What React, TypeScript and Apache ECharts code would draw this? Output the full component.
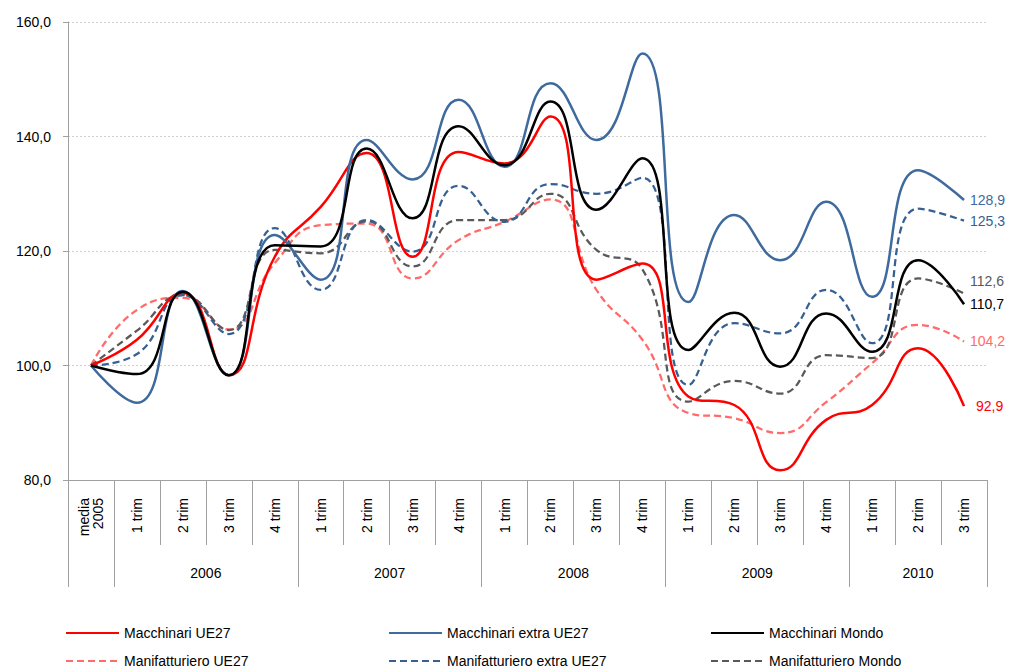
import React, { useEffect, useRef } from "react";
import * as echarts from "echarts";

// ---- data ----
const quarterLabels = [
  "media\n2005",
  "1 trim", "2 trim", "3 trim", "4 trim",
  "1 trim", "2 trim", "3 trim", "4 trim",
  "1 trim", "2 trim", "3 trim", "4 trim",
  "1 trim", "2 trim", "3 trim", "4 trim",
  "1 trim", "2 trim", "3 trim",
];
const yearGroups = ["", "2006", "2007", "2008", "2009", "2010"];
const yearGroupSizes = [1, 4, 4, 4, 4, 3];

const macchinariUE27 = [100, 104.5, 112.7, 98.3, 119.0, 127.7, 137.1, 119.0, 137.3, 135.3, 143.5, 115.0, 117.8, 94.6, 93.1, 81.7, 90.5, 93.1, 103.0, 92.9];
const macchinariExtraUE27 = [100, 93.5, 113.0, 98.3, 122.8, 115.0, 139.4, 132.5, 146.4, 134.7, 149.3, 139.4, 154.5, 111.1, 126.3, 118.4, 128.6, 112.0, 134.1, 128.9];
const macchinariMondo = [100, 98.5, 112.9, 98.3, 121.0, 120.8, 137.9, 125.7, 141.8, 135.0, 146.1, 127.2, 136.2, 102.7, 109.2, 99.8, 109.1, 102.4, 118.4, 110.7];
const manifatturieroUE27 = [100, 109.7, 111.8, 106.3, 117.9, 124.5, 124.8, 115.2, 121.9, 125.1, 129.0, 113.2, 104.5, 91.7, 90.8, 88.2, 93.6, 100.4, 107.1, 104.2];
const manifatturieroExtraUE27 = [100, 102.0, 112.3, 105.5, 124.0, 113.2, 125.4, 119.9, 131.4, 125.1, 131.7, 130.0, 132.8, 96.6, 107.4, 105.6, 113.2, 103.9, 127.4, 125.3];
const manifatturieroMondo = [100, 106.1, 112.3, 106.2, 120.2, 119.6, 125.2, 117.3, 125.4, 125.4, 130.0, 120.2, 116.8, 93.7, 97.3, 95.1, 101.8, 101.3, 115.2, 112.6];

const FONT = "'Liberation Sans', Arial, Helvetica, sans-serif";
const fmt = (v: number) => v.toFixed(1).replace(".", ",");

// group boundaries and centers (in category units)
const groupBounds: number[] = [0];
yearGroupSizes.forEach((s) => groupBounds.push(groupBounds[groupBounds.length - 1] + s));
const groupCenters = yearGroupSizes.map((s, i) => groupBounds[i] + s / 2);

export default function App() {
  const ref = useRef<HTMLDivElement>(null);
  useEffect(() => {
    if (!ref.current) return;
    const chart = echarts.init(ref.current, null, { renderer: "svg" });

    const mk = (
      name: string,
      data: number[],
      color: string,
      dashed: boolean,
      width: number,
      labelOffset: [number, number]
    ) => ({
      name,
      type: "line",
      data,
      smooth: 0.5,
      symbol: "none",
      xAxisIndex: 0,
      yAxisIndex: 0,
      lineStyle: { color, width, type: dashed ? [7, 4] : "solid" },
      itemStyle: { color },
      endLabel: {
        show: true,
        formatter: (p: any) => fmt(Array.isArray(p.value) ? p.value[1] : p.value),
        color,
        fontSize: 14,
        fontFamily: FONT,
        distance: 6,
        offset: labelOffset,
      },
    });

    const series = [
      mk("Manifatturiero UE27", manifatturieroUE27, "#FF6B6B", true, 2.25, [0, 0]),
      mk("Manifatturiero Mondo", manifatturieroMondo, "#595959", true, 2.25, [0, -12]),
      mk("Manifatturiero extra UE27", manifatturieroExtraUE27, "#376092", true, 2.25, [0, 0]),
      mk("Macchinari UE27", macchinariUE27, "#FF0000", false, 2.5, [6, 0]),
      mk("Macchinari extra UE27", macchinariExtraUE27, "#3E6A9E", false, 2.5, [0, 0]),
      mk("Macchinari Mondo", macchinariMondo, "#000000", false, 2.5, [0, 0]),
    ];

    const legendPos: [string, number, number][] = [
      ["Macchinari UE27", 65, 626],
      ["Macchinari extra UE27", 388, 626],
      ["Macchinari Mondo", 710, 626],
      ["Manifatturiero UE27", 65, 654],
      ["Manifatturiero extra UE27", 388, 654],
      ["Manifatturiero Mondo", 710, 654],
    ];

    chart.setOption({
      animation: false,
      backgroundColor: "#ffffff",
      textStyle: { fontFamily: FONT },
      grid: { left: 68, right: 24, top: 22, bottom: 189, containLabel: false },
      legend: legendPos.map(([name, left, top]) => ({
        data: [name],
        left,
        top,
        padding: 0,
        itemGap: 0,
        itemWidth: 53,
        itemHeight: 14,
        itemStyle: { opacity: 0 },
        textStyle: { fontSize: 14, color: "#000", fontFamily: FONT },
        selectedMode: false,
      })),
      xAxis: [
        {
          type: "category",
          data: quarterLabels,
          boundaryGap: true,
          axisLine: { show: true, lineStyle: { color: "#A0A0A0", width: 1 } },
          axisTick: { show: true, interval: 0, length: 65, lineStyle: { color: "#A0A0A0" } },
          axisLabel: {
            interval: 0,
            rotate: 90,
            margin: 18,
            fontSize: 14,
            lineHeight: 14,
            color: "#000",
            fontFamily: FONT,
          },
          splitLine: { show: false },
        },
        {
          type: "value",
          position: "bottom",
          min: 0,
          max: quarterLabels.length,
          axisLine: { show: false },
          splitLine: { show: false },
          axisTick: {
            show: true,
            length: 107,
            customValues: groupBounds,
            lineStyle: { color: "#A0A0A0" },
          },
          axisLabel: {
            show: true,
            customValues: groupCenters.slice(1),
            margin: 86,
            fontSize: 14,
            color: "#000",
            fontFamily: FONT,
            formatter: (v: number) => {
              const i = groupCenters.findIndex((c) => Math.abs(c - v) < 1e-6);
              return i >= 0 ? yearGroups[i] : "";
            },
          },
        },
      ],
      yAxis: {
        type: "value",
        min: 80,
        max: 160,
        interval: 20,
        axisLine: { show: true, lineStyle: { color: "#A0A0A0", width: 1 } },
        axisTick: { show: true, length: 5, lineStyle: { color: "#A0A0A0" } },
        axisLabel: {
          formatter: (v: number) => fmt(v),
          fontSize: 14,
          color: "#000",
          margin: 17,
          fontFamily: FONT,
        },
        splitLine: { show: true, lineStyle: { color: "#D0D0D0", type: [2, 2], width: 1 } },
      },
      series,
    });

    return () => chart.dispose();
  }, []);

  return (
    <div
      ref={ref}
      style={{ position: "absolute", left: 0, top: 0, width: 1011, height: 669 }}
    />
  );
}
